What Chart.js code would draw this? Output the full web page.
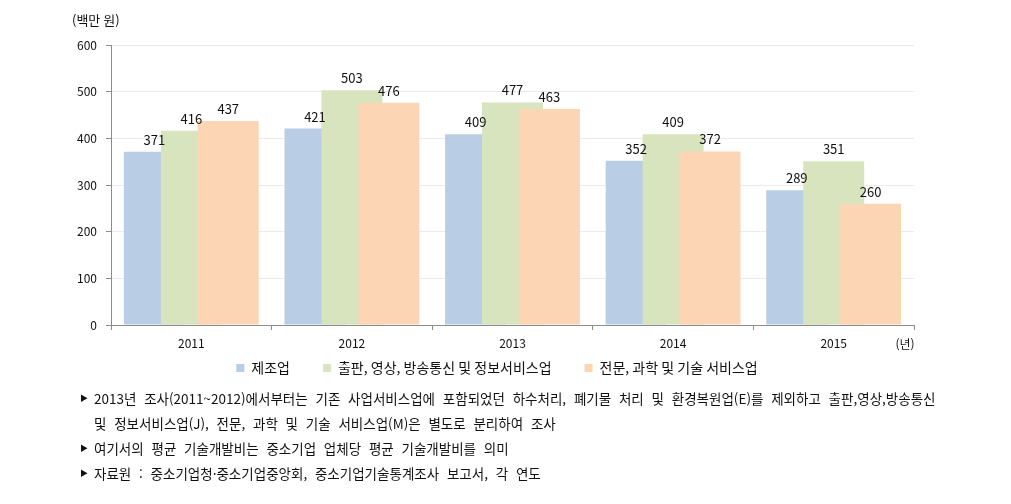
<!DOCTYPE html>
<html lang="ko">
<head>
<meta charset="utf-8">
<script src="https://cdn.jsdelivr.net/npm/chart.js@4.4.1/dist/chart.umd.min.js"></script>
<style>
  html, body { margin: 0; padding: 0; background: #fff; }
  #wrap { position: relative; width: 1011px; height: 504px; overflow: hidden; }
  #chartBox { position: absolute; left: 0; top: 0; width: 1011px; height: 411px; }
  .notes { position: absolute; left: 0; top: 385px; width: 1011px;
           font-family: "Noto Sans CJK KR", sans-serif; font-size: 13.5px; color: #111; }
  .notes div { position: absolute; white-space: nowrap; line-height: 26px; word-spacing: 4px; }
  .notes .mark { position: absolute; font-size: 8px; left: 80px; line-height: 26px; }
</style>
</head>
<body>
<div id="wrap">
  <div id="chartBox"><canvas id="devChart"></canvas></div>
  <div class="notes" id="notes"></div>
</div>
<script>
const years = ['2011', '2012', '2013', '2014', '2015'];
const manufacturing = [371, 421, 409, 352, 289];
const publishing = [416, 503, 477, 409, 351];
const professional = [437, 476, 463, 372, 260];
const seriesNames = ['제조업', '출판, 영상, 방송통신 및 정보서비스업', '전문, 과학 및 기술 서비스업'];
const seriesColors = ['#b9cde5', '#d7e4bd', '#fcd5b5'];
const yMax = 600;
const yStep = 100;
const unitLabel = '(백만 원)';
const xUnitLabel = '(년)';
const noteLines = [
  { mark: true, text: '2013년 조사(2011~2012)에서부터는 기존 사업서비스업에 포함되었던 하수처리, 폐기물 처리 및 환경복원업(E)를 제외하고 출판,영상,방송통신' },
  { mark: false, text: '및 정보서비스업(J), 전문, 과학 및 기술 서비스업(M)은 별도로 분리하여 조사' },
  { mark: true, text: '여기서의 평균 기술개발비는 중소기업 업체당 평균 기술개발비를 의미' },
  { mark: true, text: '자료원 : 중소기업청·중소기업중앙회, 중소기업기술통계조사 보고서, 각 연도' }
];

// notes under the chart
(function(){
  const box = document.getElementById('notes');
  noteLines.forEach((ln, i) => {
    const top = i * 25;
    if (ln.mark) {
      const m = document.createElement('span');
      m.className = 'mark';
      m.style.top = top + 'px';
      m.textContent = '▶';
      box.appendChild(m);
    }
    const d = document.createElement('div');
    d.style.left = '94px';
    d.style.top = top + 'px';
    d.textContent = ln.text;
    box.appendChild(d);
  });
})();

const FONT = '"Noto Sans CJK KR", "Noto Sans", sans-serif';

// draw bars left-to-right so the later series overlaps the earlier, then the value labels
const overlapDraw = {
  id: 'overlapDraw',
  afterLayout(chart) {
    // nudge the legend up/right to where the reference has it
    const lg = chart.legend;
    lg.top -= 25; lg.bottom -= 25;
    lg.left += 10; lg.right += 10;
  },
  beforeDatasetsDraw(chart) {
    const ctx = chart.ctx;
    const metas = chart.getSortedVisibleDatasetMetas();
    metas.forEach(m => m.controller.draw());
    ctx.save();
    ctx.font = '13px ' + FONT;
    ctx.fillStyle = '#111';
    ctx.textAlign = 'center';
    ctx.textBaseline = 'alphabetic';
    metas.forEach(m => {
      const vals = chart.data.datasets[m.index].data;
      m.data.forEach((el, i) => {
        ctx.fillText(String(vals[i]), el.x, el.y - 7);
      });
    });
    ctx.restore();
    return false;
  },
  afterDraw(chart) {
    const ctx = chart.ctx;
    const x = chart.scales.x;
    ctx.save();
    ctx.font = '13px ' + FONT;
    ctx.fillStyle = '#111';
    ctx.textBaseline = 'middle';
    ctx.textAlign = 'left';
    ctx.fillText(unitLabel, 72, 20);
    ctx.textAlign = 'center';
    ctx.font = '12px ' + FONT;
    ctx.fillText(xUnitLabel, x.right - 9, 344);
    ctx.restore();
  }
};

const chart = new Chart(document.getElementById('devChart').getContext('2d'), {
  type: 'bar',
  data: {
    labels: years,
    datasets: [
      { label: seriesNames[0], data: manufacturing, backgroundColor: seriesColors[0] },
      { label: seriesNames[1], data: publishing, backgroundColor: seriesColors[1] },
      { label: seriesNames[2], data: professional, backgroundColor: seriesColors[2] }
    ]
  },
  options: {
    responsive: true,
    maintainAspectRatio: false,
    animation: false,
    events: [],
    layout: { padding: { left: 60, right: 97, top: 45, bottom: 1 } },
    datasets: { bar: { categoryPercentage: 0.69, barPercentage: 1.65 } },
    scales: {
      x: {
        grid: { display: true, drawOnChartArea: false, offset: true, tickLength: 5, tickColor: '#8c8c8c' },
        border: { color: '#8c8c8c' },
        ticks: { color: '#111', font: { family: FONT, size: 12 }, padding: 6 },
        afterFit(s) { s.height = 28; }
      },
      y: {
        min: 0, max: yMax,
        grid: { color: '#ebebeb', tickLength: 5, tickColor: '#8c8c8c' },
        border: { color: '#8c8c8c' },
        ticks: { stepSize: yStep, color: '#111', font: { family: FONT, size: 12 }, padding: 9 },
        afterFit(s) { s.width = 51; }
      }
    },
    plugins: {
      legend: {
        position: 'bottom',
        labels: { boxWidth: 8, boxHeight: 8, padding: 33, color: '#111', font: { family: FONT, size: 14 } }
      },
      tooltip: { enabled: false }
    }
  },
  plugins: [overlapDraw]
});
</script>
</body>
</html>
